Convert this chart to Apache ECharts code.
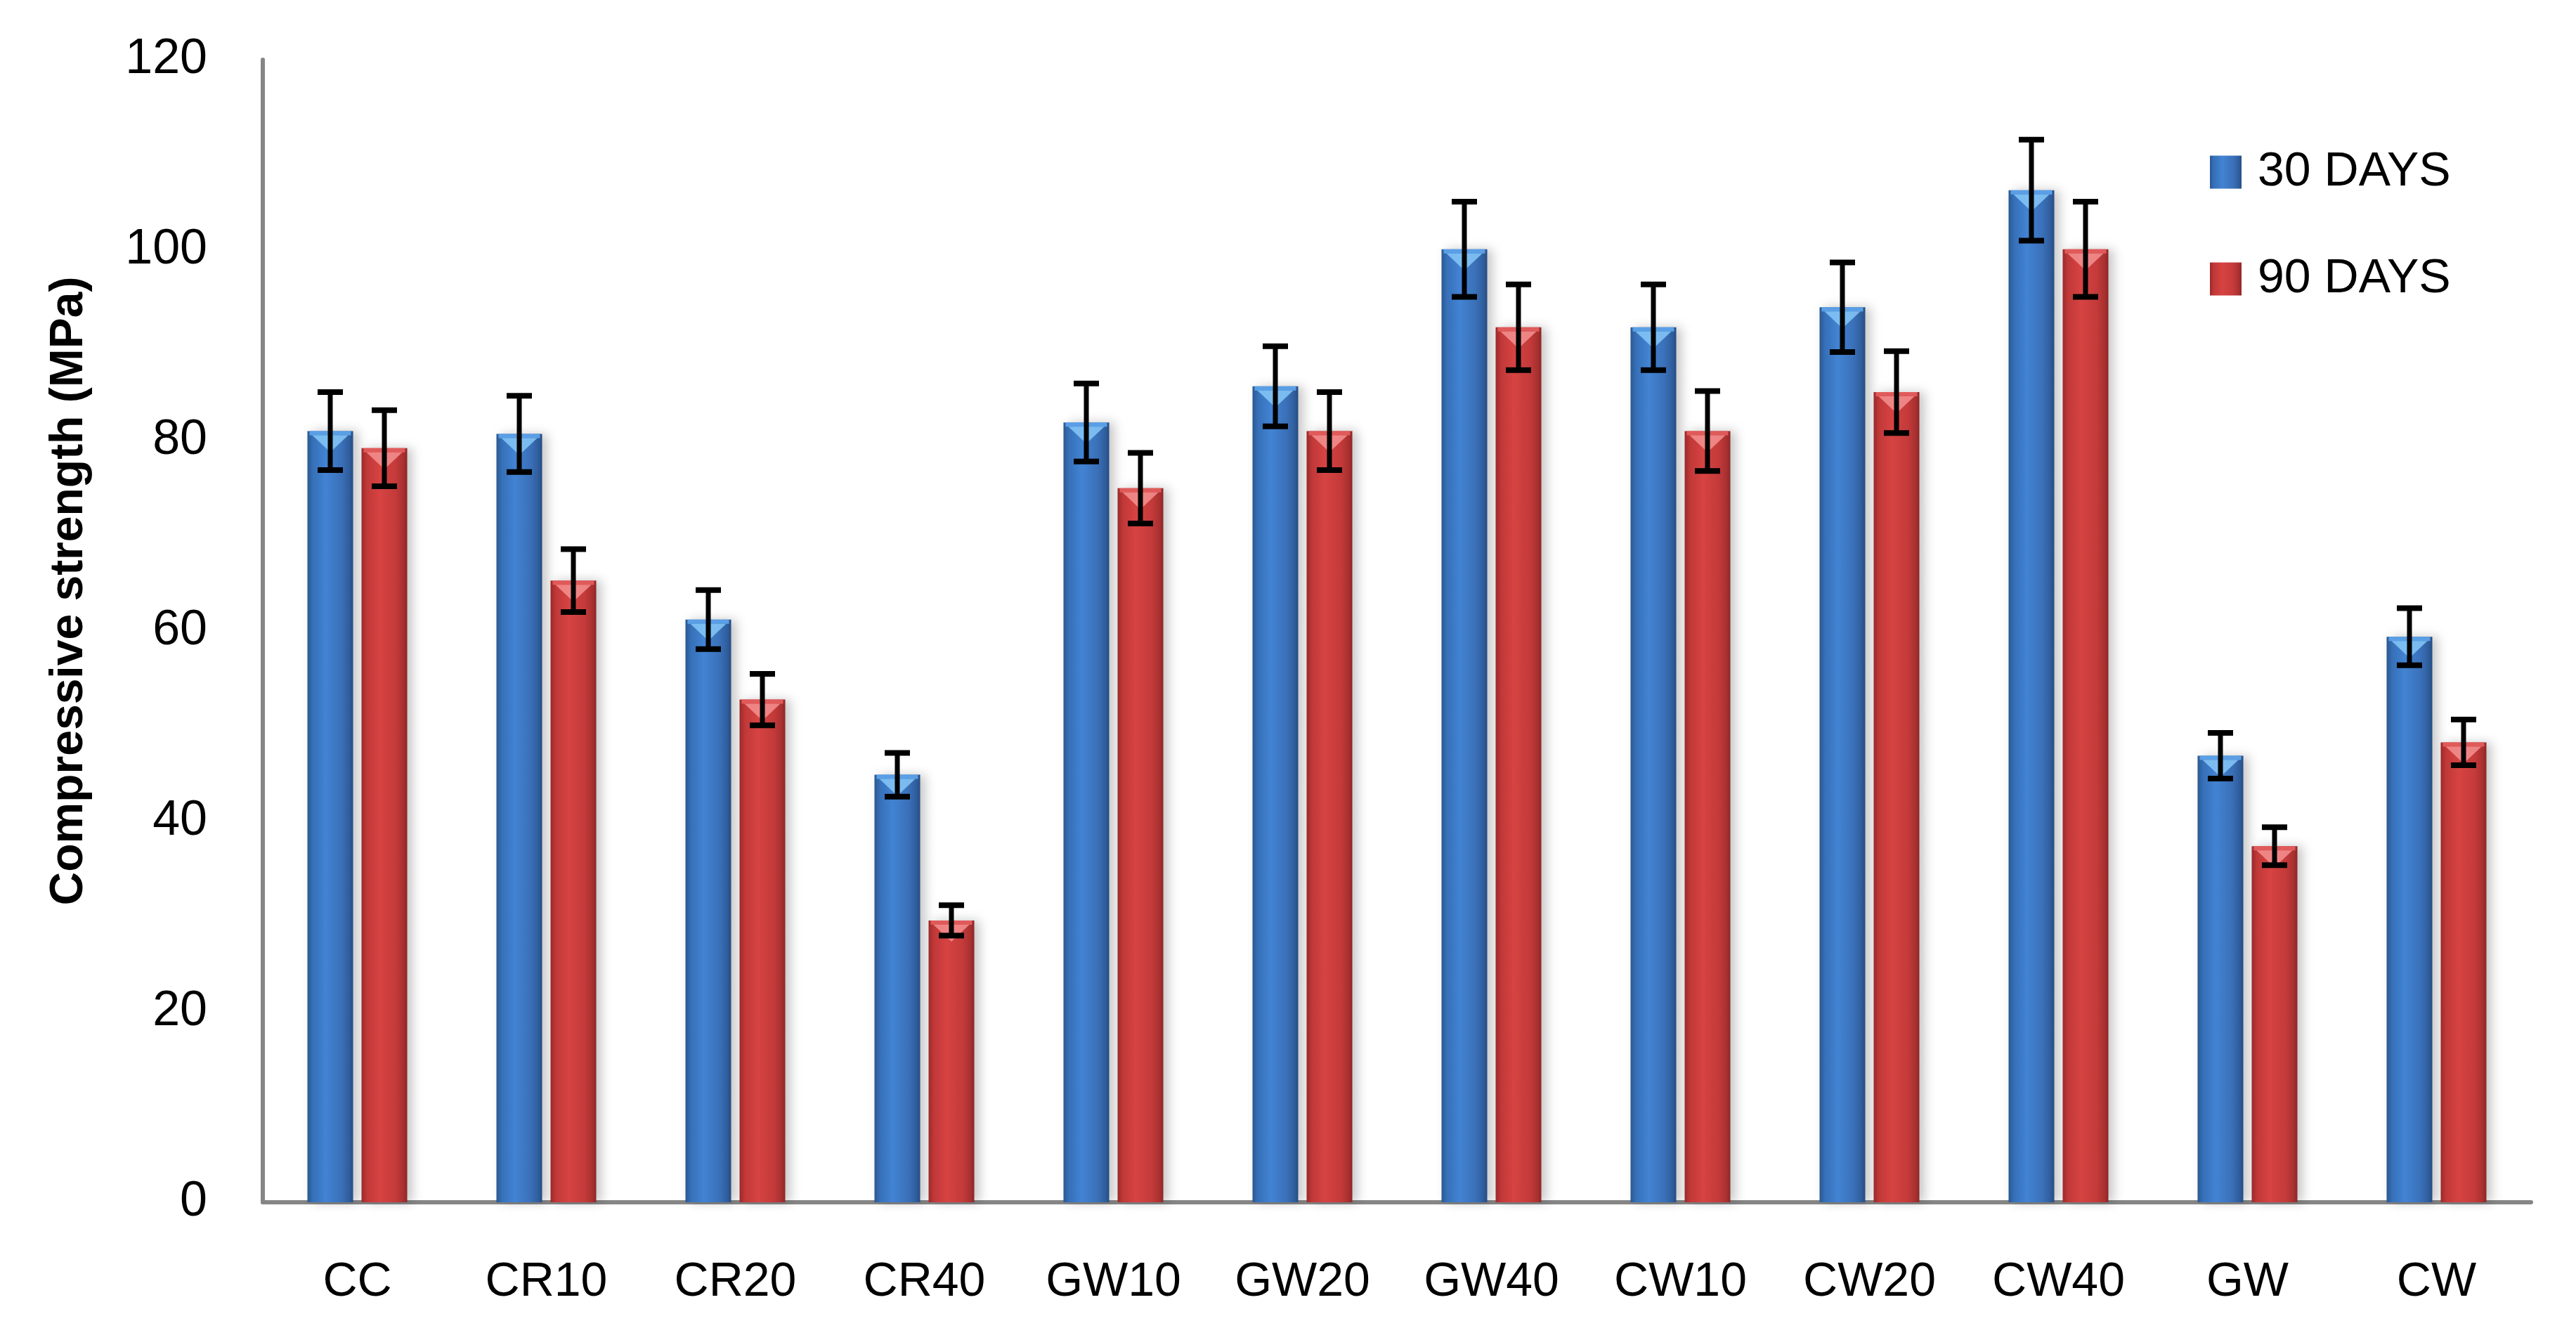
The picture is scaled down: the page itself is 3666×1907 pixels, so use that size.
<!DOCTYPE html>
<html>
<head>
<meta charset="utf-8">
<script src="https://cdn.jsdelivr.net/npm/echarts@6/dist/echarts.min.js"></script>
<style>
html,body{margin:0;padding:0;background:#fff;}
#main{width:3666px;height:1907px;}
</style>
</head>
<body>
<div id="main"></div>
<script>
// ---- data ----
const categories = ['CC','CR10','CR20','CR40','GW10','GW20','GW40','CW10','CW20','CW40','GW','CW'];
const days30 = [81.0, 80.7, 61.2, 44.9, 81.9, 85.7, 100.1, 91.9, 94.0, 106.3, 46.9, 59.4];
const err30  = [4.1, 4.0, 3.1, 2.3, 4.1, 4.2, 5.0, 4.5, 4.7, 5.3, 2.4, 3.0];
const days90 = [79.2, 65.3, 52.8, 29.6, 75.0, 81.0, 91.9, 81.0, 85.1, 100.1, 37.4, 48.3];
const err90  = [4.0, 3.3, 2.7, 1.6, 3.7, 4.1, 4.5, 4.2, 4.3, 5.0, 2.0, 2.4];
const seriesNames = ['30 DAYS', '90 DAYS'];
const yMin = 0, yMax = 120, yInterval = 20;
const yAxisTitle = 'Compressive strength (MPa)';

// ---- style ----
const BAR_W = 65, BAR_GAP = 12;
const OFF = (BAR_W + BAR_GAP) / 2;
const FONT = "'Liberation Sans', Arial, sans-serif";

const blueGrad = new echarts.graphic.LinearGradient(0,0,1,0,[
  {offset:0, color:'#2b5890'},{offset:0.12, color:'#3670b8'},{offset:0.4, color:'#4283d3'},
  {offset:0.75, color:'#3a70b8'},{offset:0.92, color:'#2f5d9c'},{offset:1, color:'#264c82'}]);
const redGrad = new echarts.graphic.LinearGradient(0,0,1,0,[
  {offset:0, color:'#9a2a2a'},{offset:0.12, color:'#c13838'},{offset:0.4, color:'#d64342'},
  {offset:0.75, color:'#c43a3a'},{offset:0.92, color:'#a83030'},{offset:1, color:'#8e2626'}]);

function errRender(offset){
  return function(params, api){
    const c = api.value(0), v = api.value(1), e = api.value(2);
    const top = api.coord([c, v + e]);
    const bot = api.coord([c, v - e]);
    const x = top[0] + offset;
    const hw = 18;
    const st = {stroke:'#000', lineWidth:7};
    return {type:'group', children:[
      {type:'line', shape:{x1:x, y1:top[1], x2:x, y2:bot[1]}, style:st},
      {type:'line', shape:{x1:x-hw, y1:top[1], x2:x+hw, y2:top[1]}, style:{stroke:'#000', lineWidth:8}},
      {type:'line', shape:{x1:x-hw, y1:bot[1], x2:x+hw, y2:bot[1]}, style:{stroke:'#000', lineWidth:8}}
    ]};
  };
}
function hiRender(offset, light, band){
  return function(params, api){
    const c = api.value(0), v = api.value(1);
    const p = api.coord([c, v]);
    const x = p[0] + offset, y = p[1];
    const hw = BAR_W/2;
    return {type:'group', children:[
      {type:'rect', shape:{x:x-hw+3, y:y, width:BAR_W-6, height:6}, style:{fill:band}},
      {type:'polygon', shape:{points:[[x-hw+7,y+6],[x+hw-7,y+6],[x,y+30]]}, style:{fill:light, opacity:0.85}}
    ]};
  };
}

const chart = echarts.init(document.getElementById('main'), null, {renderer:'canvas'});
const option = {
  backgroundColor:'#ffffff',
  animation:false,
  grid:{left:374, right:64, top:85, bottom:196, containLabel:false},
  legend:{
    data:seriesNames, orient:'vertical', left:3140, top:206,
    itemWidth:45, itemHeight:47, itemGap:84, icon:'rect',
    textStyle:{fontFamily:FONT, fontSize:68, color:'#000', padding:[0,0,0,18]}
  },
  xAxis:{
    type:'category', data:categories,
    axisLine:{show:true, lineStyle:{color:'#868686', width:6}},
    axisTick:{show:false},
    axisLabel:{fontFamily:FONT, fontSize:68, color:'#000', margin:80},
    splitLine:{show:false}
  },
  yAxis:{
    type:'value', min:yMin, max:yMax, interval:yInterval,
    axisLine:{show:true, lineStyle:{color:'#868686', width:6}},
    axisTick:{show:false},
    axisLabel:{fontFamily:FONT, fontSize:70, color:'#000', margin:79},
    splitLine:{show:false}
  },
  graphic:[{
    type:'text', x:99, y:841, rotation:Math.PI/2,
    style:{text:yAxisTitle, fontFamily:FONT, fontSize:66, fontWeight:'bold', fill:'#000',
           align:'center', verticalAlign:'middle'}
  }],
  series:[
    {name:seriesNames[0], type:'bar', data:days30, barWidth:BAR_W, barGap:(BAR_GAP/BAR_W*100)+'%',
     itemStyle:{color:blueGrad, shadowColor:'rgba(0,0,0,0.22)', shadowBlur:14, shadowOffsetX:7}},
    {name:seriesNames[1], type:'bar', data:days90, barWidth:BAR_W, barGap:(BAR_GAP/BAR_W*100)+'%',
     itemStyle:{color:redGrad, shadowColor:'rgba(0,0,0,0.22)', shadowBlur:14, shadowOffsetX:7}},
    {name:'hi30', type:'custom', z:5, renderItem:hiRender(-OFF, '#86c8f8', '#5a9fe6'),
     data:days30.map((v,i)=>[i,v]), encode:{x:0,y:1}, silent:true},
    {name:'hi90', type:'custom', z:5, renderItem:hiRender(OFF, '#f59090', '#e05a5a'),
     data:days90.map((v,i)=>[i,v]), encode:{x:0,y:1}, silent:true},
    {name:'err30', type:'custom', z:10, renderItem:errRender(-OFF),
     data:days30.map((v,i)=>[i,v,err30[i]]), encode:{x:0,y:1}, silent:true},
    {name:'err90', type:'custom', z:10, renderItem:errRender(OFF),
     data:days90.map((v,i)=>[i,v,err90[i]]), encode:{x:0,y:1}, silent:true}
  ]
};
chart.setOption(option);
</script>
</body>
</html>
